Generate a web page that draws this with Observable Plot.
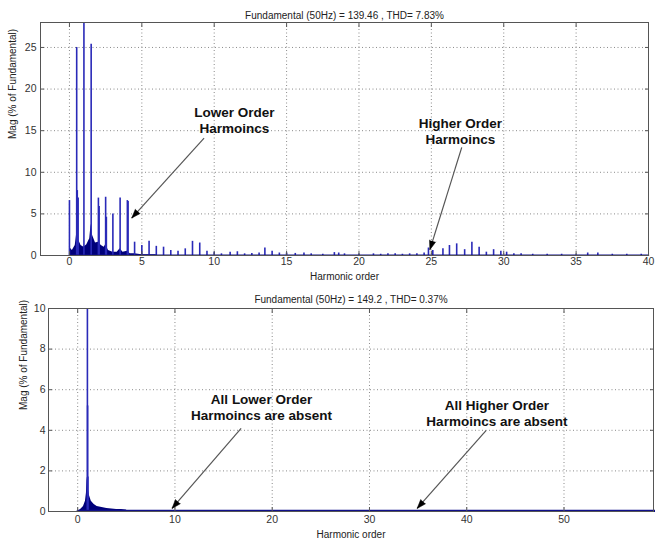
<!DOCTYPE html>
<html><head><meta charset="utf-8">
<script src="https://cdn.jsdelivr.net/npm/d3@7"></script>
<script src="https://cdn.jsdelivr.net/npm/@observablehq/plot@0.6"></script>
<style>
body{margin:0;background:#fff;width:655px;height:547px;overflow:hidden;font-family:"Liberation Sans",Arial,sans-serif}
#top,#bot{position:absolute;left:0}
#top{top:0}
#bot{top:285px}
</style></head><body><div id="top"></div><div id="bot"></div>
<script>
// ---------- data ----------
const xLabel = "Harmonic order";
const yLabel = "Mag (% of Fundamental)";
const topTitle = "Fundamental (50Hz) = 139.46 , THD= 7.83%";
const botTitle = "Fundamental (50Hz) = 149.2 , THD= 0.37%";

const topTicksX = [0, 5, 10, 15, 20, 25, 30, 35, 40];
const topTicksY = [0, 5, 10, 15, 20, 25];
const botTicksX = [0, 10, 20, 30, 40, 50];
const botTicksY = [0, 2, 4, 6, 8, 10];

// top spectrum: discrete harmonic spikes
const topSpikeH = [0, 0.5, 0.54, 0.6, 1.0, 1.5, 2.0, 2.05, 2.5, 2.55, 3.0, 3.5, 4.0, 4.05, 4.5, 5.0, 5.5, 6.0, 6.5, 7.0, 7.5, 8.0, 8.5, 9.0, 9.5, 10.0, 10.5, 11.1, 11.6, 12.1, 12.6, 13.1, 13.5, 14.0, 14.5, 15.0, 15.6, 16.2, 16.7, 17.5, 18.3, 18.6, 19.0, 20.0, 21.0, 21.5, 22.0, 22.5, 23.0, 23.5, 24.0, 24.5, 24.8, 25.1, 25.8, 26.25, 26.75, 27.3, 27.8, 28.3, 28.8, 29.3, 29.8, 30.2, 30.7, 31.2, 32.0, 33.0, 34.0, 35.0, 35.8, 36.5, 37.5, 38.5, 39.5];
const topSpikeM = [6.6, 25.0, 7.8, 6.9, 100, 25.4, 6.9, 5.9, 7.0, 4.6, 5.0, 6.9, 6.6, 6.5, 1.6, 1.2, 1.7, 1.1, 1.0, 0.6, 0.5, 0.8, 1.7, 1.5, 0.5, 0.4, 0.2, 0.4, 0.45, 0.2, 0.25, 0.3, 0.9, 0.5, 0.3, 0.3, 0.25, 0.3, 0.2, 0.15, 0.35, 0.3, 0.2, 0.15, 0.2, 0.15, 0.2, 0.2, 0.15, 0.2, 0.2, 0.3, 0.9, 0.6, 0.8, 1.2, 1.4, 0.7, 1.6, 1.0, 0.4, 0.7, 0.5, 0.4, 0.2, 0.2, 0.15, 0.15, 0.15, 0.1, 0.3, 0.3, 0.15, 0.15, 0.15];
// top spectrum: dense inter-harmonic content (envelope)
const topDenseH = [0, 0.05, 0.2, 0.4, 0.5, 0.6, 0.8, 1.0, 1.2, 1.4, 1.5, 1.6, 1.8, 2.0, 2.2, 2.4, 2.5, 2.7, 3.0, 3.3, 3.5, 3.7, 4.0, 4.2, 4.5, 5.0, 6.0];
const topDenseM = [0, 0.9, 0.6, 1.2, 2.6, 2.0, 1.2, 1.0, 1.3, 2.0, 3.8, 2.4, 1.5, 1.6, 1.2, 1.0, 1.3, 0.6, 0.4, 0.4, 0.8, 0.4, 0.5, 0.2, 0.2, 0.1, 0.1];
const topFloorH = [0, 40];
const topFloorM = [0.03, 0.03];

// bottom spectrum
const botSpikeH = [1.0, 1.02, 1.05];
const botSpikeM = [100, 5.2, 1.7];
const botDenseH = [0, 0.3, 0.6, 0.8, 0.9, 0.95, 1.0, 1.1, 1.2, 1.4, 1.7, 2.0, 2.5, 3.0, 3.5, 4.0, 4.5, 5.0, 5.1, 7, 10, 12];
const botDenseM = [0, 0.1, 0.25, 0.5, 0.9, 1.5, 1.7, 1.1, 0.8, 0.5, 0.35, 0.25, 0.2, 0.15, 0.12, 0.1, 0.1, 0.08, 0.04, 0.04, 0.03, 0];
const botFloorH = [0, 59.5];
const botFloorM = [0.03, 0.03];

// annotations
const topNotes = ["Lower Order\nHarmoincs", "Higher Order\nHarmoincs"];
const topNoteH = [11.4, 27.0];
const topNoteM = [16.3, 15.0];
const topArrowH1 = [9.3, 27.1], topArrowM1 = [14.1, 13.0];
const topArrowH2 = [4.3, 24.9], topArrowM2 = [4.5, 0.7];

const botNotes = ["All Lower Order\nHarmoincs are absent", "All Higher Order\nHarmoincs are absent"];
const botNoteH = [18.9, 43.1];
const botNoteM = [5.15, 4.85];
const botArrowH1 = [16.8, 42.0], botArrowM1 = [4.1, 4.0];
const botArrowH2 = [9.7, 34.9], botArrowM2 = [0.15, 0.15];

// ---------- chart builder ----------
function chart(cfg) {
  const {width, height, mL, mR, mT, mB, xDom, yDom, ticksX, ticksY} = cfg;
  const xs = Plot.scale({x: {domain: xDom, range: [mL, width - mR]}});
  const ys = Plot.scale({y: {domain: yDom, range: [height - mB, mT]}});
  const spikes = cfg.spikeH.map((h, i) => ({h, m: cfg.spikeM[i]}));
  const dense = cfg.denseH.map((h, i) => ({h, m: cfg.denseM[i]}));
  const floor = cfg.floorH.map((h, i) => ({h, m: cfg.floorM[i]}));
  const notes = cfg.notes.map((t, i) => ({t, h: cfg.noteH[i], m: cfg.noteM[i]}));
  const arrows = cfg.aH1.map((h1, i) => {
    const a = {h1, m1: cfg.aM1[i], h2: cfg.aH2[i], m2: cfg.aM2[i]};
    const dx = xs.apply(a.h2) - xs.apply(a.h1);
    const dy = ys.apply(a.m2) - ys.apply(a.m1);
    a.rot = Math.atan2(dx, -dy) * 180 / Math.PI;
    return a;
  });
  const tickFont = {fontSize: 10.5, fill: "#333"};
  return Plot.plot({
    width, height, marginLeft: mL, marginRight: mR, marginTop: mT, marginBottom: mB,
    style: {fontFamily: "'Liberation Sans', Arial, sans-serif", background: "#fff"},
    x: {domain: xDom, axis: null},
    y: {domain: yDom, axis: null},
    marks: [
      Plot.gridX(ticksX, {stroke: "#8a8a8a", strokeOpacity: 1, strokeDasharray: "1,2.5"}),
      Plot.gridY(ticksY, {stroke: "#8a8a8a", strokeOpacity: 1, strokeDasharray: "1,2.5"}),
      Plot.areaY(dense, {x: "h", y: "m", fill: "#00007a", clip: true}),
      Plot.ruleX(spikes, {x: "h", y1: 0, y2: "m", stroke: "#2a2ab8", strokeWidth: 1.6, clip: true}),
      Plot.lineY(floor, {x: "h", y: "m", stroke: "#10108a", strokeWidth: cfg.floorW}),
      Plot.frame({stroke: "#555", strokeWidth: 1}),
      Plot.axisX(ticksX, {anchor: "bottom", tickSize: 0, tickPadding: cfg.padX, label: null, ...tickFont}),
      Plot.axisY(ticksY, {anchor: "left", tickSize: 0, tickPadding: cfg.padY, label: null, ...tickFont}),
      Plot.axisX(ticksX, {anchor: "bottom", tickSize: -4, text: null, label: null, stroke: "#555"}),
      Plot.axisX(ticksX, {anchor: "top", tickSize: -4, text: null, label: null, stroke: "#555"}),
      Plot.axisY(ticksY, {anchor: "left", tickSize: -4, text: null, label: null, stroke: "#555"}),
      Plot.axisY(ticksY, {anchor: "right", tickSize: -4, text: null, label: null, stroke: "#555"}),
      Plot.text([cfg.title], {frameAnchor: "top", dy: cfg.titleDy, fontSize: 10, fill: "#222"}),
      Plot.text([xLabel], {frameAnchor: "bottom", dy: cfg.xLabDy, fontSize: 10, fill: "#222"}),
      Plot.text([yLabel], {frameAnchor: "left", dx: cfg.yLabDx, rotate: -90, fontSize: 10, fill: "#222"}),
      Plot.link(arrows, {x1: "h1", y1: "m1", x2: "h2", y2: "m2", stroke: "#555", strokeWidth: 1.2}),
      Plot.vector(arrows, {x: "h2", y: "m2", rotate: "rot", length: 9, r: 3.2, shape: "spike", anchor: "end", fill: "#000", stroke: "#000", strokeWidth: 0.5}),
      Plot.text(notes, {x: "h", y: "m", text: "t", fontSize: 13.5, fontWeight: "bold", fill: "#111", lineHeight: 1.2})
    ]
  });
}

document.getElementById("top").append(chart({
  width: 655, height: 285, mL: 40, mR: 7, mT: 22, mB: 30,
  xDom: [-2, 40], yDom: [0, 28], ticksX: topTicksX, ticksY: topTicksY,
  spikeH: topSpikeH, spikeM: topSpikeM, denseH: topDenseH, denseM: topDenseM,
  floorH: topFloorH, floorM: topFloorM, floorW: 1.5,
  notes: topNotes, noteH: topNoteH, noteM: topNoteM,
  aH1: topArrowH1, aM1: topArrowM1, aH2: topArrowH2, aM2: topArrowM2,
  title: topTitle, titleDy: -11, xLabDy: 24, yLabDx: -28, padX: 2, padY: 4
}));

document.getElementById("bot").append(chart({
  width: 655, height: 262, mL: 48, mR: 2, mT: 23, mB: 36,
  xDom: [-3, 59.2], yDom: [0, 10], ticksX: botTicksX, ticksY: botTicksY,
  spikeH: botSpikeH, spikeM: botSpikeM, denseH: botDenseH, denseM: botDenseM,
  floorH: botFloorH, floorM: botFloorM, floorW: 2.2,
  notes: botNotes, noteH: botNoteH, noteM: botNoteM,
  aH1: botArrowH1, aM1: botArrowM1, aH2: botArrowH2, aM2: botArrowM2,
  title: botTitle, titleDy: -13, xLabDy: 26, yLabDx: -25, padX: 4, padY: 3
}));
</script>
</body></html>
